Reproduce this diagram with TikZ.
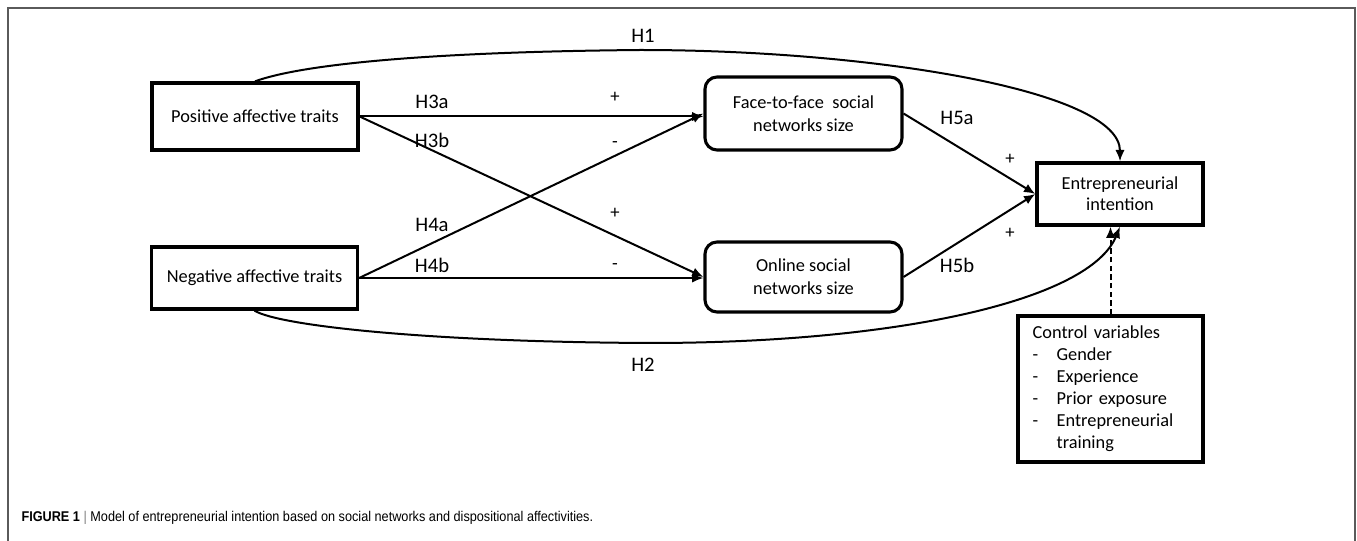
\documentclass[tikz,border=0pt]{standalone}
\usepackage{fontspec}
\usepackage{graphicx}
\setmainfont{Carlito}
\newfontfamily\capfont{Liberation Sans}
\usetikzlibrary{arrows.meta}

\tikzset{every picture/.style={line width=0.75pt}}
\tikzset{
  traitbox/.style={draw, line width=2.5pt, minimum width=154.5pt, inner sep=0pt, font=\fontsize{13.75}{16.5}\selectfont},
  netbox/.style={draw, line width=2.3pt, rounded corners=9pt, minimum width=147.75pt, align=center, inner sep=0pt, font=\fontsize{13.75}{17}\selectfont},
  eibox/.style={draw, line width=2.5pt, minimum width=124.5pt, minimum height=46.5pt, align=center, inner sep=0pt, font=\fontsize{13.75}{16}\selectfont},
  ctrlbox/.style={draw, line width=2.5pt, minimum height=109.5pt, text width=116.75pt, inner xsep=11pt, align=left, font=\fontsize{13.75}{16.5}\selectfont},
  hyp/.style={inner sep=0.75pt, font=\fontsize{15.5}{18}\selectfont},
  sgn/.style={inner sep=0.75pt, font=\fontsize{14}{16}\selectfont},
  link/.style={line width=1.5pt, -{Latex[length=8.5pt,width=7pt]}},
}

\begin{document}
\begin{tikzpicture}[x=0.75pt,y=0.75pt,yscale=-1,xscale=1]
\useasboundingbox (0,0) rectangle (1357,541);

%Shape: Frame (open at the bottom)
\draw [color={rgb, 255:red, 90; green, 90; blue, 90 }, line width=1pt] (8,541) -- (8,8) -- (1355,8) -- (1355,541);

%Shape: Rectangle
\node [traitbox, minimum height=50.25pt] (pos) at (255,116.5) {Positive affective traits};
%Shape: Rectangle
\node [traitbox, minimum height=46.5pt] (neg) at (254.5,278) {Negative affective traits};
%Shape: Rounded Rect
\node [netbox, minimum height=54.75pt] (f2f) at (803.5,113.5) {Face-to-face\ \ social\\networks size};
%Shape: Rounded Rect
\node [netbox, minimum height=52.5pt] (online) at (803.5,277) {Online social\\networks size};
%Shape: Rectangle
\node [eibox] (ei) at (1120,194) {Entrepreneurial\\intention};
%Shape: Rectangle
\node [ctrlbox] (ctrl) at (1110.5,389) {\begin{tabular}{@{}p{18pt}@{}l@{}}
\multicolumn{2}{@{}l@{}}{Control variables}\\
- & Gender\\
- & Experience\\
- & Prior exposure\\
- & Entrepreneurial\\
  & training
\end{tabular}};

%Straight Lines
\draw [link] (pos.east) -- (pos.east -| f2f.west);
\draw [link] (pos.east) -- (online.west);
\draw [link] (neg.east) -- (f2f.west);
\draw [link] (neg.east) -- (neg.east -| online.west);
\draw [link] (f2f.east) -- (ei.west);
\draw [link] (online.east) -- (ei.west);
%Curve Lines
\draw [link] (pos.north) .. controls (300,65) and (420,52) .. (640,50) .. controls (870,50) and (1120,90) .. (ei.north);
\draw [link] (neg.south) .. controls (280,326) and (430,342) .. (650,343) .. controls (900,343) and (1090,300) .. (ei.south);
%Dashed Line
\draw [link, dash pattern=on 4pt off 2.5pt] (ctrl.north) -- (ctrl.north |- ei.south);

% Text Node
\node [hyp] (h1) at (643,36) {H1};
\node [hyp] (h2) at (643,365) {H2};
\node [hyp] (h3a) at (432,102) {H3a};
\node [hyp] (h3b) at (432,140) {H3b};
\node [hyp] (h4a) at (432,225) {H4a};
\node [hyp] (h4b) at (432,265) {H4b};
\node [hyp] (h5a) at (957,118) {H5a};
\node [hyp] (h5b) at (957,265) {H5b};
% Text Node
\node [sgn] (s3a) at (615,97) {+};
\node [sgn] (s4a) at (615,145) {-};
\node [sgn] (s3b) at (615,213) {+};
\node [sgn] (s4b) at (615,267) {-};
\node [sgn] (s5a) at (1010,159) {+};
\node [sgn] (s5b) at (1010,233) {+};

% Caption
\node [anchor=base west, inner sep=0pt, font=\capfont\fontsize{10.6}{12}\selectfont] (cap) at (21,522) {\scalebox{0.898}[1]{\textbf{FIGURE 1} {\color{gray}|} Model of entrepreneurial intention based on social networks and dispositional affectivities.}};

\end{tikzpicture}
\end{document}
